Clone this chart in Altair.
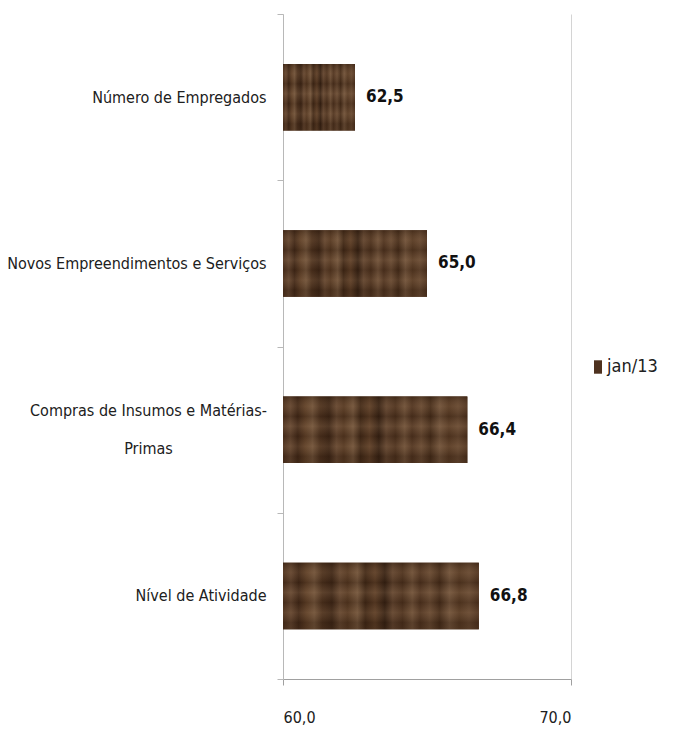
import altair as alt
import pandas as pd

categories = [
    "Número de Empregados",
    "Novos Empreendimentos e Serviços",
    "Compras de Insumos e Matérias-Primas",
    "Nível de Atividade",
]
values = [62.5, 65.0, 66.4, 66.8]
series_name = "jan/13"
x_ticks = [60, 70]

# category whose label is wrapped onto two centred lines
wrapped_cat = "Compras de Insumos e Matérias-Primas"
wrapped_lines = ["Compras de Insumos e Matérias-", "Primas"]

df = pd.DataFrame({
    "cat": categories,
    "value": values,
    "serie": [series_name] * len(categories),
    "base": [x_ticks[0]] * len(categories),
})

FONT = "DejaVu Sans Condensed, sans-serif"
BROWN = "#4e321f"

arr = "[" + ",".join("'" + s + "'" for s in wrapped_lines) + "]"
label_expr = f"datum.value == '{wrapped_cat}' ? {arr} : datum.label"
is_wrapped = f"datum.value == '{wrapped_cat}'"

y_enc = alt.Y(
    "cat:N",
    sort=categories,
    title=None,
    scale=alt.Scale(paddingInner=0, paddingOuter=0),
    axis=alt.Axis(
        labelExpr=label_expr,
        labelFont=FONT,
        labelFontSize=16,
        labelColor="#202020",
        labelAlign={"condition": {"test": is_wrapped, "value": "center"}, "value": "right"},
        labelPadding={"condition": {"test": is_wrapped, "value": 129}, "value": 11},
        labelOffset={"condition": {"test": is_wrapped, "value": -19}, "value": 0},
        labelLineHeight=38,
        labelLimit=300,
        domainColor="#b8b8b8",
        tickColor="#b8b8b8",
        tickSize=6,
        tickBand="extent",
        grid=False,
    ),
)

x_enc = alt.X(
    "value:Q",
    title=None,
    scale=alt.Scale(domain=[x_ticks[0], x_ticks[-1]], zero=False, nice=False),
    axis=alt.Axis(
        values=x_ticks,
        labelExpr="replace(format(datum.value, '.1f'), '.', ',')",
        labelFont=FONT,
        labelFontSize=16,
        labelColor="#202020",
        labelPadding=24,
        domainColor="#a0a0a0",
        tickColor="#a0a0a0",
        tickSize=6,
        grid=True,
        gridColor="#d4d4d4",
    ),
)

base = alt.Chart(df)

legend_bars = base.mark_bar(height={"band": 0.4}).encode(
    x=x_enc,
    x2="base:Q",
    y=y_enc,
    color=alt.Color(
        "serie:N",
        scale=alt.Scale(range=[BROWN]),
        legend=alt.Legend(
            title=None,
            orient="none",
            legendX=306,
            legendY=344,
            padding=0,
            symbolType="M-0.6,-1H0.6V1H-0.6Z",
            symbolSize=180,
            symbolStrokeWidth=0,
            labelFont=FONT,
            labelFontSize=18,
            labelColor="#202020",
            labelOffset=0,
        ),
    ),
)

stops_spec = [
    (0.00, "#4a2e1b"), (0.04, "#634530"), (0.08, "#3f2616"), (0.12, "#5e3f27"),
    (0.16, "#72543b"), (0.20, "#4b301d"), (0.25, "#3a2314"), (0.29, "#654731"),
    (0.33, "#533620"), (0.38, "#73553c"), (0.42, "#3e2615"), (0.47, "#5c3d26"),
    (0.52, "#321e11"), (0.56, "#61442f"), (0.61, "#4a2f1c"), (0.66, "#6f5139"),
    (0.70, "#4d311e"), (0.75, "#684a33"), (0.80, "#432a18"), (0.85, "#72543c"),
    (0.90, "#553822"), (0.95, "#664831"), (1.00, "#4c301d"),
]
texture = alt.Gradient(
    gradient="linear",
    x1=0, x2=1, y1=0, y2=0,
    stops=[alt.GradientStop(offset=o, color=c) for o, c in stops_spec],
)

overlay_spec = [
    (0.00, "rgba(40,24,12,0.35)"), (0.15, "rgba(150,120,90,0.18)"),
    (0.30, "rgba(40,24,12,0.25)"), (0.45, "rgba(160,130,100,0.22)"),
    (0.60, "rgba(40,24,12,0.20)"), (0.75, "rgba(150,120,90,0.20)"),
    (0.90, "rgba(40,24,12,0.28)"), (1.00, "rgba(60,40,24,0.35)"),
]
overlay = alt.Gradient(
    gradient="linear",
    x1=0, x2=0, y1=0, y2=1,
    stops=[alt.GradientStop(offset=o, color=c) for o, c in overlay_spec],
)

tex_bars = base.mark_bar(fill=texture, height={"band": 0.4}).encode(
    x="value:Q", x2="base:Q", y=alt.Y("cat:N", sort=categories)
)
tex_overlay = base.mark_bar(fill=overlay, height={"band": 0.4}).encode(
    x="value:Q", x2="base:Q", y=alt.Y("cat:N", sort=categories)
)

labels = base.transform_calculate(
    txt="replace(format(datum.value, '.1f'), '.', ',')"
).mark_text(
    align="left", baseline="middle", dx=11, font=FONT, fontSize=17, fontWeight="bold", color="#111111"
).encode(x="value:Q", y=alt.Y("cat:N", sort=categories), text="txt:N")

chart = (
    alt.layer(legend_bars, tex_bars, tex_overlay, labels)
    .properties(
        width=288,
        height=665,
        autosize=alt.AutoSizeParams(type="none"),
        padding={"left": 275, "top": 6, "right": 108, "bottom": 48},
        background="white",
    )
    .configure_view(stroke=None)
)

chart.save("out.html", embed_options={"renderer": "svg", "actions": False})
